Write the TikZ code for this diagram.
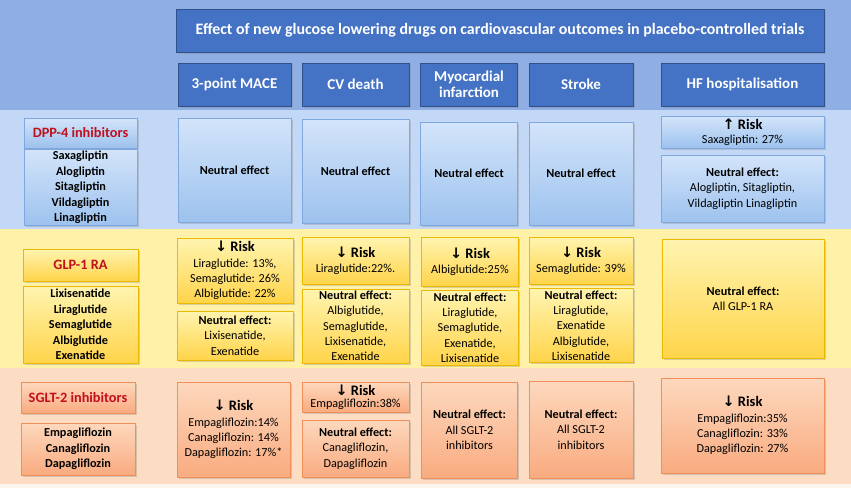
\documentclass[tikz,border=0pt]{standalone}
\usepackage{fontspec}
\setmainfont{Carlito}
\newfontfamily\arrowfont{DejaVu Sans}
\usetikzlibrary{calc,shadows}

\definecolor{hdrblue}{HTML}{4472C4}
\definecolor{hdredge}{HTML}{2F528F}
\definecolor{bandtop}{HTML}{8FAEE3}
\definecolor{banddpp}{HTML}{C2D8F6}
\definecolor{bandglp}{HTML}{FFF2A8}
\definecolor{bandsglt}{HTML}{FCDCC3}
\definecolor{bandfoot}{HTML}{FDF6EF}
\definecolor{dpptop}{HTML}{D3E4FA}
\definecolor{dppbot}{HTML}{9DC2EE}
\definecolor{dppedge}{HTML}{7FA9DE}
\definecolor{glptop}{HTML}{FFF4B0}
\definecolor{glpbot}{HTML}{FFD44A}
\definecolor{glpedge}{HTML}{EDB800}
\definecolor{sglttop}{HTML}{FDD8BD}
\definecolor{sgltbot}{HTML}{F9AB80}
\definecolor{sgltedge}{HTML}{F09058}
\definecolor{drugred}{HTML}{C0101E}

\newcommand{\riskdown}{{\arrowfont\bfseries ↓}}
\newcommand{\riskup}{{\arrowfont\bfseries ↑}}
\newcommand{\riskhead}[1]{{\fontsize{14.5}{16}\selectfont\bfseries #1\ Risk}}

\begin{document}
\begin{tikzpicture}[x=1pt,y=-1pt,
    cell/.style={draw, line width=0.8pt, align=center, inner sep=2pt,
      drop shadow={shadow xshift=1.5pt, shadow yshift=-1.5pt, opacity=0.3},
      font=\fontsize{12.2}{15.3}\selectfont},
    hdr/.style={cell, fill=hdrblue, draw=hdredge, text=white,
      font=\bfseries\fontsize{15}{16.5}\selectfont, minimum height=43pt},
    dppbox/.style={cell, top color=dpptop, bottom color=dppbot, draw=dppedge},
    glpbox/.style={cell, top color=glptop, bottom color=glpbot, draw=glpedge},
    sgltbox/.style={cell, top color=sglttop, bottom color=sgltbot, draw=sgltedge},
    classlabel/.style={text=drugred, font=\bfseries\fontsize{14.3}{16}\selectfont},
    druglist/.style={font=\bfseries\fontsize{12.2}{15.4}\selectfont}]
  \useasboundingbox (0,0) rectangle (851,488);
  % bands
  \fill[bandfoot] (0,0) rectangle (851,488);
  \fill[bandtop] (0,0) rectangle (851,110);
  \fill[banddpp] (0,110) rectangle (851,229);
  \fill[bandglp] (0,229) rectangle (851,368);
  \fill[bandsglt] (0,368) rectangle (851,484);

  % header
  \node[hdr, minimum width=648pt, font=\bfseries\fontsize{15.9}{18}\selectfont] (title) at (500,30.5)
    {Effect of new glucose lowering drugs on cardiovascular outcomes in placebo-controlled trials};
  \node[hdr, minimum width=113pt] (mace) at (234.5,84.5) {3-point MACE};
  \node[hdr, minimum width=107pt] (cvd) at (355.5,84.5) {CV death};
  \node[hdr, minimum width=97pt] (mi) at (469,84.5) {Myocardial\\infarction};
  \node[hdr, minimum width=104pt] (stroke) at (581,84.5) {Stroke};
  \node[hdr, minimum width=163pt] (hf) at (742.5,84.5) {HF hospitalisation};

  % DPP-4 inhibitors
  \node[dppbox, classlabel, minimum width=113pt, minimum height=30pt] (dpp) at (80.5,133) {DPP-4 inhibitors};
  \node[dppbox, druglist, minimum width=113pt, minimum height=73pt] (dpplist) at (80.5,187.5)
    {Saxagliptin\\Alogliptin\\Sitagliptin\\Vildagliptin\\Linagliptin};
  \node[dppbox, minimum width=113pt, minimum height=104pt] (dppmace) at (234.5,170) {\textbf{Neutral effect}};
  \node[dppbox, minimum width=107pt, minimum height=104pt] (dppcvd) at (355.5,171) {\textbf{Neutral effect}};
  \node[dppbox, minimum width=97pt, minimum height=103pt] (dppmi) at (469,173.5) {\textbf{Neutral effect}};
  \node[dppbox, minimum width=104pt, minimum height=103pt] (dppstroke) at (581,173.5) {\textbf{Neutral effect}};
  \node[dppbox, minimum width=163pt, minimum height=32pt] (dpphfrisk) at (742.5,132)
    {\riskhead{\riskup}\\[-1pt]Saxagliptin: 27\%};
  \node[dppbox, minimum width=163pt, minimum height=67pt] (dpphf) at (742.5,188.5)
    {\textbf{Neutral effect:}\\Alogliptin, Sitagliptin,\\Vildagliptin Linagliptin};

  % GLP-1 RA
  \node[glpbox, classlabel, minimum width=115pt, minimum height=32pt] (glp) at (80.5,265) {GLP-1 RA};
  \node[glpbox, druglist, minimum width=115pt, minimum height=77pt] (glplist) at (80.5,324.5)
    {Lixisenatide\\Liraglutide\\Semaglutide\\Albiglutide\\Exenatide};
  \node[glpbox, minimum width=116pt, minimum height=65pt] (glpmacerisk) at (235,270.5)
    {\riskhead{\riskdown}\\Liraglutide: 13\%,\\Semaglutide: 26\%\\Albiglutide: 22\%};
  \node[glpbox, minimum width=116pt, minimum height=49pt] (glpmace) at (235,335.5)
    {\textbf{Neutral effect:}\\Lixisenatide,\\Exenatide};
  \node[glpbox, minimum width=107pt, minimum height=47pt] (glpcvdrisk) at (355.5,260.5)
    {\riskhead{\riskdown}\\Liraglutide:22\%.};
  \node[glpbox, minimum width=107pt, minimum height=74pt] (glpcvd) at (355.5,326)
    {\textbf{Neutral effect:}\\Albiglutide,\\Semaglutide,\\Lixisenatide,\\Exenatide};
  \node[glpbox, minimum width=97pt, minimum height=49pt] (glpmirisk) at (470,261.5)
    {\riskhead{\riskdown}\\Albiglutide:25\%};
  \node[glpbox, minimum width=97pt, minimum height=75pt] (glpmi) at (470,327.5)
    {\textbf{Neutral effect:}\\Liraglutide,\\Semaglutide,\\Exenatide,\\Lixisenatide};
  \node[glpbox, minimum width=104pt, minimum height=47pt] (glpstrokerisk) at (581,260.5)
    {\riskhead{\riskdown}\\Semaglutide: 39\%};
  \node[glpbox, minimum width=104pt, minimum height=73pt] (glpstroke) at (581,325.5)
    {\textbf{Neutral effect:}\\Liraglutide,\\Exenatide\\Albiglutide,\\Lixisenatide};
  \node[glpbox, minimum width=162pt, minimum height=119pt] (glphf) at (743,298.5)
    {\textbf{Neutral effect:}\\All GLP-1 RA};

  % SGLT-2 inhibitors
  \node[sgltbox, classlabel, minimum width=114pt, minimum height=31pt] (sglt) at (78,397.5) {SGLT-2 inhibitors};
  \node[sgltbox, druglist, minimum width=114pt, minimum height=52pt] (sgltlist) at (78,449)
    {Empagliflozin\\Canagliflozin\\Dapagliflozin};
  \node[sgltbox, minimum width=113pt, minimum height=95pt] (sgltmace) at (233.5,429.5)
    {\riskhead{\riskdown}\\Empagliflozin:14\%\\Canagliflozin: 14\%\\Dapagliflozin: 17\%*};
  \node[sgltbox, minimum width=107pt, minimum height=30pt] (sgltcvdrisk) at (355.5,397)
    {\riskhead{\riskdown}\\[-3pt]Empagliflozin:38\%};
  \node[sgltbox, minimum width=107pt, minimum height=57pt] (sgltcvd) at (355.5,448.5)
    {\textbf{Neutral effect:}\\Canagliflozin,\\Dapagliflozin};
  \node[sgltbox, minimum width=96pt, minimum height=96pt] (sgltmi) at (469.5,430)
    {\textbf{Neutral effect:}\\All SGLT-2\\inhibitors};
  \node[sgltbox, minimum width=104pt, minimum height=97pt] (sgltstroke) at (581,429.5)
    {\textbf{Neutral effect:}\\All SGLT-2\\inhibitors};
  \node[sgltbox, minimum width=163pt, minimum height=95pt] (sglthf) at (742.5,425.5)
    {\riskhead{\riskdown}\\Empagliflozin:35\%\\Canagliflozin: 33\%\\Dapagliflozin: 27\%};
\end{tikzpicture}
\end{document}
